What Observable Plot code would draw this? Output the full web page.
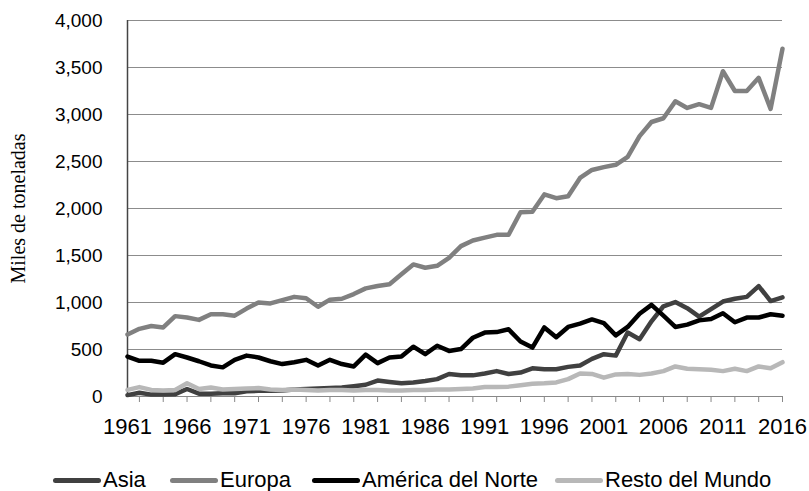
<!DOCTYPE html>
<html><head><meta charset="utf-8">
<script src="https://cdn.jsdelivr.net/npm/d3@7"></script>
<script src="https://cdn.jsdelivr.net/npm/@observablehq/plot@0.6"></script>
<style>
body{margin:0;background:#fff;}
#wrap{position:relative;width:809px;height:491px;overflow:hidden;}
#legend{position:relative;height:36px;font-family:"Liberation Sans Narrow","Arial Narrow","Liberation Sans",sans-serif;font-size:22px;color:#000;}
.sw{position:absolute;height:5px;border-radius:2.5px;top:23px;width:48px;}
.lt{position:absolute;top:13px;line-height:24px;white-space:nowrap;}
</style></head><body>
<div id="wrap"><div id="chart"></div><div id="legend"></div></div>
<script>
const years = [1961,1962,1963,1964,1965,1966,1967,1968,1969,1970,1971,1972,1973,1974,1975,1976,1977,1978,1979,1980,1981,1982,1983,1984,1985,1986,1987,1988,1989,1990,1991,1992,1993,1994,1995,1996,1997,1998,1999,2000,2001,2002,2003,2004,2005,2006,2007,2008,2009,2010,2011,2012,2013,2014,2015,2016];
const asia = [15,40,20,20,25,80,30,30,35,35, 55,60,60,65,75,80,85,90,95,110, 125,170,155,140,150,165,185,240,225,225, 245,270,240,255,300,290,290,315,330,400, 450,435,680,610,800,960,1005,940,850,930, 1010,1040,1060,1175,1015,1055];
const europa = [660,720,750,735,855,840,815,875,875,860, 935,1000,990,1025,1060,1045,955,1030,1040,1090, 1150,1175,1195,1300,1405,1370,1390,1475,1600,1660, 1690,1720,1720,1960,1965,2150,2110,2130,2325,2410, 2440,2465,2550,2770,2920,2960,3140,3070,3110,3070, 3460,3250,3250,3390,3060,3700];
const norteamerica = [425,380,380,360,450,415,375,330,310,390, 435,415,375,345,365,390,330,390,345,320, 445,355,415,425,530,450,540,485,505,625, 680,685,715,585,520,735,630,740,775,820, 780,650,740,880,975,860,740,765,810,825, 885,790,840,840,875,860];
const resto = [70,100,70,65,70,140,80,95,75,80, 85,90,75,70,75,70,65,70,70,65, 70,70,65,65,70,70,75,75,80,85, 100,100,105,120,135,140,150,185,245,240, 200,235,240,230,245,270,320,295,290,285, 270,295,270,320,300,365];
const seriesNames = ["Asia","Europa","América del Norte","Resto del Mundo"];
const seriesColors = ["#404040","#808080","#000000","#b8b8b8"];
const yTicks = [0,500,1000,1500,2000,2500,3000,3500,4000];
const labelYears = [1961,1966,1971,1976,1981,1986,1991,1996,2001,2006,2011,2016];
const tickYears = [1962,1964,1966,1968,1970,1972,1974,1976,1978,1980,1982,1984,1986,1988,1990,1992,1994,1996,1998,2000,2002,2004,2006,2008,2010,2012,2014,2016];
const yTitle = "Miles de toneladas";

const seriesValues = [asia, europa, norteamerica, resto];
const rows = seriesValues.flatMap((vals, s) => years.map((yr, i) => ({year: yr, value: vals[i], serie: seriesNames[s]})));

const chart = Plot.plot({
  width: 809, height: 455,
  marginLeft: 127, marginRight: 27, marginTop: 20, marginBottom: 59,
  style: {fontFamily: "'Liberation Sans', Arial, sans-serif", background: "#fff", color: "#000"},
  x: {domain: [1961, 2016]},
  y: {domain: [0, 4000]},
  color: {domain: seriesNames, range: seriesColors},
  marks: [
    Plot.gridY(yTicks, {stroke: "#8c8c8c", strokeOpacity: 1}),
    Plot.axisY(yTicks, {tickSize: 0, tickPadding: 25, tickFormat: d3.format(","), fontSize: 19, label: null}),
    Plot.axisX(tickYears, {tickSize: 6, tickFormat: () => "", stroke: "#888", label: null}),
    Plot.axisX(labelYears, {tickSize: 0, tickPadding: 22, tickFormat: d => String(d), fontSize: 22, fontFamily: "'Liberation Sans Narrow', 'Arial Narrow', 'Liberation Sans', sans-serif", label: null}),
    Plot.ruleY([0], {stroke: "#888"}),
    Plot.ruleX([1961], {stroke: "#444", strokeWidth: 1.5}),
    Plot.line(rows, {x: "year", y: "value", z: "serie", stroke: "serie", strokeWidth: 4.5, strokeLinejoin: "round"}),
    Plot.text([yTitle], {frameAnchor: "left", textAnchor: "middle", dx: -109, rotate: -90, fontFamily: "'Liberation Serif', 'Times New Roman', serif", fontSize: 20})
  ]
});
document.getElementById("chart").appendChild(chart);

const legendPos = [[53,103],[170,220],[312,362],[555,605]];
const legend = document.getElementById("legend");
seriesNames.forEach((n, i) => {
  const sw = document.createElement("div");
  sw.className = "sw"; sw.style.left = legendPos[i][0] + "px"; sw.style.background = seriesColors[i];
  const t = document.createElement("div");
  t.className = "lt"; t.style.left = legendPos[i][1] + "px"; t.textContent = n;
  legend.appendChild(sw); legend.appendChild(t);
});
</script>
</body></html>
